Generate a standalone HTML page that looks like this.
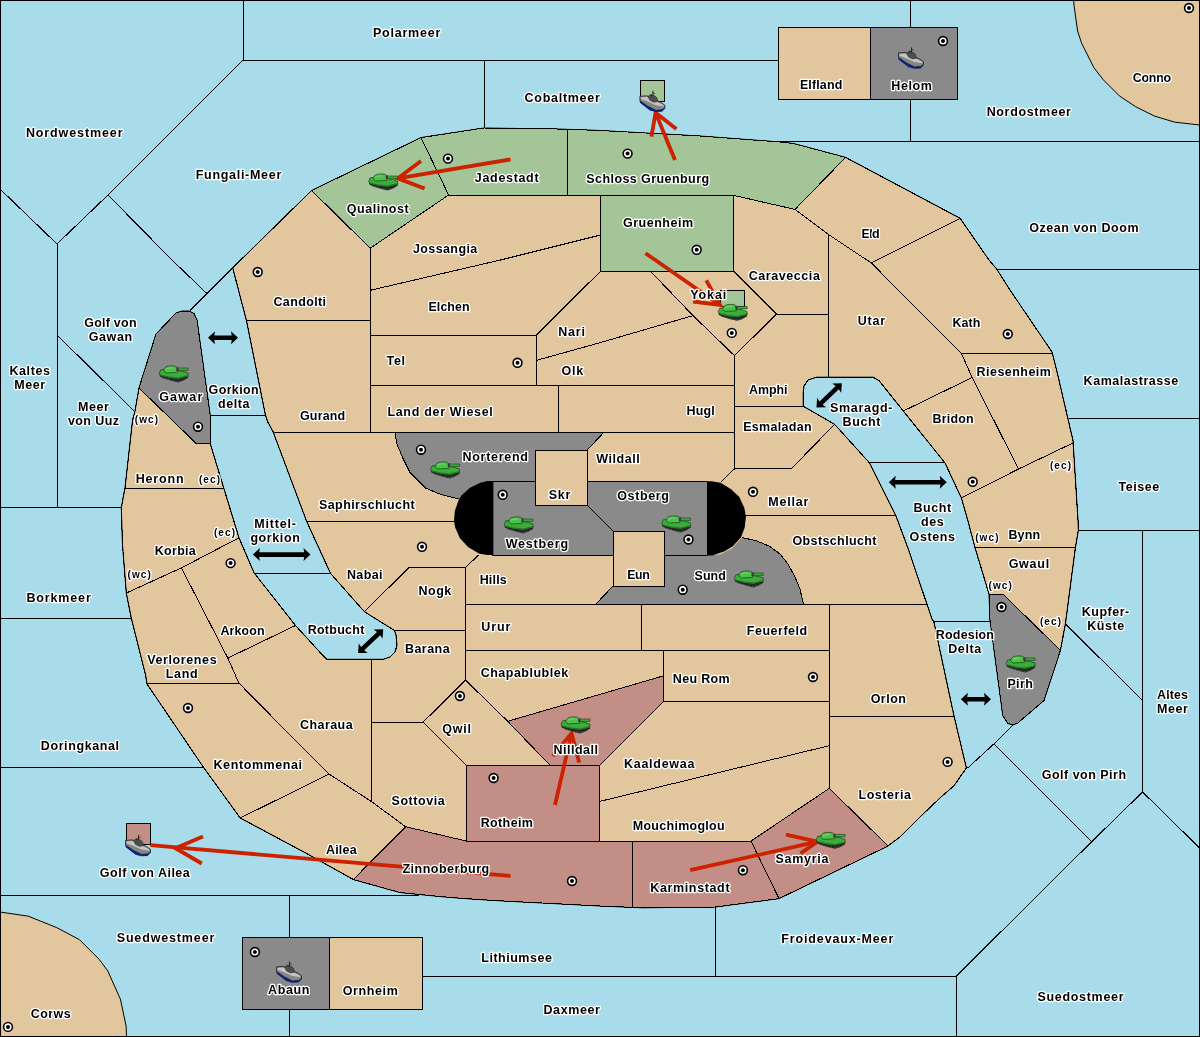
<!DOCTYPE html><html><head><meta charset="utf-8"><style>html,body{margin:0;padding:0;background:#fff;}svg{display:block;}text{will-change:transform;}text{font-family:"Liberation Sans",sans-serif;font-weight:bold;fill:#000;stroke:#fff;stroke-width:2.6px;paint-order:stroke;stroke-linejoin:round;text-anchor:middle;}.t{font-size:12.5px;letter-spacing:0.6px}.s{font-size:10px;letter-spacing:1.1px}</style></head><body>
<svg width="1200" height="1037" viewBox="0 0 1200 1037">
<rect x="0" y="0" width="1200" height="1037" fill="#A9DCEA"/>
<path d="M1073.5,0 L1074.2,6.75 L1077.6,31 L1081.6,43.2 L1093.8,67.5 L1103.2,79.7 L1119.4,95.9 L1135.6,106.7 L1154.5,116.1 L1174.8,122.2 L1199,124.9 L1200,125 L1200,0 Z" fill="#E1C69E" stroke="#000" stroke-width="1"/>
<path d="M0,912 L28.3,916.2 L56.7,927.6 L79.4,939.6 L99.2,959.4 L107.7,970.8 L120.4,999.1 L126.1,1026 L126.5,1037 L0,1037 Z" fill="#E1C69E" stroke="#000" stroke-width="1"/>
<g stroke="#000" stroke-width="1" fill="none" shape-rendering="crispEdges">
<polyline points="243,0 243,60 778.5,60"/>
<polyline points="243,60 108,195"/>
<polyline points="0,189 57,244 108,195 172,260 206.3,293"/>
<polyline points="57,244 57,507.7"/>
<polyline points="0,507.7 121.3,507.7"/>
<polyline points="57,335 134.8,411.6"/>
<polyline points="232.7,267.8 190,310.4"/>
<polyline points="210.1,415.2 265.3,415.2"/>
<polyline points="254.1,573.4 330.5,573.4"/>
<polyline points="0,618 131.3,618"/>
<polyline points="0,767.8 203.8,767.8"/>
<polyline points="0,895 419,895"/>
<polyline points="289.5,895 289.5,1037"/>
<polyline points="422,976 956.4,976"/>
<polyline points="715.3,907 715.3,976"/>
<polyline points="956.4,976 1091.7,841.7 1142.6,792 1200,848.4"/>
<polyline points="956.4,976 956.4,1037"/>
<polyline points="1091.7,841.7 994,743.8 1012.8,725"/>
<polyline points="994,743.8 967.7,768"/>
<polyline points="1142.6,530 1142.6,792"/>
<polyline points="1078.4,530 1200,530"/>
<polyline points="1065.4,624 1142.6,700.5"/>
<polyline points="1069,418.4 1200,418.4"/>
<polyline points="996.5,269 1200,269"/>
<polyline points="780,141 1200,141"/>
<polyline points="910.5,0 910.5,141"/>
<polyline points="484.5,60 484.5,128"/>
<polyline points="933.8,621.5 990,621.5"/>
<polyline points="869.5,462.9 944.3,462.9"/>
</g>
<polygon points="311.6,190.5 421,137.6 484,128 557,129 587,130 600,130.5 700,136 780,142 793.8,143.6 845.6,157.4 960.1,218.3 989,260 996.5,268.8 1010,290 1052,352 1056.6,370 1073,440.5 1078,520 1078.4,530 1075.4,547.6 1065.4,624 1060.4,650.3 1044,700.5 1017.8,723 1012.8,725 1008,723.5 1002.8,715.5 990,620 989,594 975,547.6 967.7,520 961.4,498 945,463 903.3,411 879.2,380.9 873.2,377.2 816.5,377.2 808,380 804,386 803.2,392 803.2,406.2 834.6,424.3 869.5,462.9 896,516 908.1,548.5 932.3,620 933.8,621.5 953.9,715.5 966.4,768 960,777 954,785.8 941,797 920,817 900,837 888,846 779,898.6 715,907 642.6,907.8 600,906 500,900.8 466.7,898.7 441.7,896.7 416.7,894.2 400,892.5 353.3,879.5 310.3,855.5 240.2,818 203.8,767.8 147,684 145.6,675 131.3,618 126.3,593 122.5,545 121.3,507.7 125,487.7 132.6,420 135,411 139,388 156,334 176,313 182,311 189,311 194,313.5 197,320 210.1,414.5 210.3,443.8 224,488.9 239,537.8 254.1,572.9 295.5,625.5 323,655.6 326.8,659.3 383.2,659.3 390,657 395,652 397,645 396,635 394.5,630.5 364.4,611.7 330.5,573.4 306.7,521.5 272.9,431.3 267.8,422 265.3,414.5 246.4,320.4 232.7,267.8" fill="#E1C69E" stroke="#000" stroke-width="1"/>
<polygon points="311.6,190.5 421,137.6 448.6,195 370.2,248.2" fill="#A3C598" stroke="none"/>
<polygon points="421,137.6 484,128 557,129 567.7,129.3 567.7,195 448.6,195" fill="#A3C598" stroke="none"/>
<polygon points="567.7,129.3 587,130 600,130.5 700,136 780,142 793.8,143.6 845.6,157.4 795,209.4 780,206 733.7,195.4 600.6,195.4 567.7,195" fill="#A3C598" stroke="none"/>
<polygon points="600.6,195.4 733.7,195.4 733.7,271.2 600.6,271.2" fill="#A3C598" stroke="none"/>
<polygon points="139,388 156,334 176,313 182,311 189,311 194,313.5 197,320 210.1,414.5 210.3,443.8 196.5,443.8" fill="#8A8A8A" stroke="none"/>
<polygon points="395.2,432.2 604,432.2 587,450.3 535.6,450.3 535.6,481.3 492,481.3 480,483 468,490 460.4,499.3 440.4,494.3 425.3,488 410.3,473 402.8,458 396.5,443" fill="#8A8A8A" stroke="none"/>
<polygon points="492,481.3 535.6,481.3 535.6,505 587,505 613,531 613,555 492,555" fill="#8A8A8A" stroke="none"/>
<polygon points="587,481.3 707,481.3 707,555 664.7,555 664.7,531 613,531 587,505" fill="#8A8A8A" stroke="none"/>
<polygon points="613,586 664.7,586 664.7,555 707,555 720,554.5 732,548.5 742,537.5 757,541 770,546.5 780,554 788,564 795,577 800,589 803.5,604.5 595.5,604.5" fill="#8A8A8A" stroke="none"/>
<polygon points="989,594 1002.8,594 1060.4,650.3 1044,700.5 1017.8,723 1012.8,725 1008,723.5 1002.8,715.5 990,620" fill="#8A8A8A" stroke="none"/>
<polygon points="507.7,721.3 663.7,675.8 663.7,701.3 599.8,765.2 549.9,765.2" fill="#C38E86" stroke="none"/>
<polygon points="466.5,765.2 599.8,765.2 599.8,841.1 466.5,841.1" fill="#C38E86" stroke="none"/>
<polygon points="353.3,879.5 405.6,826.7 466.5,841.1 632.3,841.1 632.3,906.8 600,906 500,900.8 466.7,898.7 441.7,896.7 416.7,894.2 400,892.5" fill="#C38E86" stroke="none"/>
<polygon points="632.3,841.1 751,841.1 779,898.6 715,907 642.6,907.8 632.3,906.8" fill="#C38E86" stroke="none"/>
<polygon points="751,841.1 829.3,788.3 888,846 779,898.6" fill="#C38E86" stroke="none"/>
<path d="M493.4,481.1 L487.6,481.1 L480.2,482.8 L469.6,488.1 L461.4,495.5 L458.5,500.4 L454.8,511.1 L454,520.9 L455.2,527.5 L459.8,538.1 L468,547.1 L479.4,553.7 L487.6,555 L493.4,555 Z" fill="#000"/>
<path d="M707,481.3 L711.5,481.3 L720.5,482.8 L731.1,489.3 L739.3,497.1 L744.3,507.8 L745.9,516.8 L744.7,527.5 L741,537.3 L732.8,546.3 L724.6,551.2 L712.3,555.5 L707,555.5 Z" fill="#000"/>
<g stroke="#000" stroke-width="1" fill="none" shape-rendering="crispEdges">
<polyline points="311.6,190.5 370.2,248.2 448.6,195"/>
<polyline points="421,137.6 448.6,195 567.7,195 600.6,195.4 733.7,195.4 780,206 795,209.4"/>
<polyline points="567.7,129.3 567.7,195"/>
<polyline points="845.6,157.4 795,209.4"/>
<polyline points="370.2,248.2 370.2,432.2"/>
<polyline points="246.4,320.4 370.2,320.4"/>
<polyline points="370.2,290.3 500.5,260 600.6,235"/>
<polyline points="600.6,195.4 600.6,271.2 733.7,271.2 733.7,195.4"/>
<polyline points="536.4,335 600.6,271.2"/>
<polyline points="370.2,335 536.4,335 536.4,385.4"/>
<polyline points="536.4,360.4 600,342.7 693,315.6"/>
<polyline points="650.4,271.2 693,315.6 734.4,355.6 776.7,314 733.7,271.2"/>
<polyline points="776.7,314 828.7,314"/>
<polyline points="828.7,234.7 828.7,377.2"/>
<polyline points="795,209.4 828.7,234.7 871.4,263 916.7,308.8 961.3,353.4"/>
<polyline points="871.4,263 960.1,218.3"/>
<polyline points="961.3,353.4 1052,353.4"/>
<polyline points="961.3,353.4 972.2,377.5 1018.5,469"/>
<polyline points="903.3,411 972.2,377.5"/>
<polyline points="961.4,498 1018.5,469 1073,443"/>
<polyline points="975,547.6 1075.4,547.6"/>
<polyline points="734.4,355.6 734.4,469.6"/>
<polyline points="370.2,385.4 734.4,385.4"/>
<polyline points="558.4,385.4 558.4,432.2"/>
<polyline points="272.8,432.2 734.4,432.2"/>
<polyline points="734.4,406.6 803.2,406.6"/>
<polyline points="834.6,424.3 791.2,468.9 734.4,468.9 721,482"/>
<polyline points="745,515.4 896,515.4"/>
<polyline points="306.7,521.5 456,521.5"/>
<polyline points="364.4,611.7 409,567.5 465.4,567.5 478.6,555"/>
<polyline points="465.4,567.5 465.4,680"/>
<polyline points="394.5,630.5 465.4,630.5"/>
<polyline points="465.4,604.5 927.6,604.5"/>
<polyline points="641.6,604.5 641.6,650.8"/>
<polyline points="465.4,650.8 829.7,650.8"/>
<polyline points="829.7,604.5 829.7,788.3"/>
<polyline points="663.7,650.8 663.7,701.3 829.7,701.3"/>
<polyline points="829.7,716.7 953.9,716.7"/>
<polyline points="599.8,801.4 829.7,745.6"/>
<polyline points="465.4,680 507.7,721.3 663.7,675.8"/>
<polyline points="663.7,701.3 599.8,765.2 549.9,765.2 507.7,721.3"/>
<polyline points="423.1,722.2 465.4,680"/>
<polyline points="423.1,722.2 466.5,765.2"/>
<polyline points="371.7,659.3 371.7,801.7"/>
<polyline points="371.7,722.2 423.1,722.2"/>
<polyline points="466.5,765.2 599.8,765.2 599.8,841.1"/>
<polyline points="466.5,765.2 466.5,841.1 751,841.1"/>
<polyline points="405.6,826.7 466.5,841.1"/>
<polyline points="238.9,683.1 282.8,727.7 329.1,774.1 371.7,801.7 405.6,826.7"/>
<polyline points="240.2,818 329.1,774.1"/>
<polyline points="353.3,879.5 405.6,826.7"/>
<polyline points="632.3,841.1 632.3,906.8"/>
<polyline points="751,841.1 779,898.6"/>
<polyline points="751,841.1 829.3,788.3 888,846"/>
<polyline points="147,683.1 238.9,683.1"/>
<polyline points="181.4,567.9 227.8,658.1 238.9,683.1"/>
<polyline points="227.8,658.1 295.5,625.5"/>
<polyline points="126.3,593 181.4,567.9 239,537.8"/>
<polyline points="125,488.9 224,488.9"/>
<polyline points="139,388 196.5,443.8 210.3,443.8"/>
<polyline points="587,450.3 587,505"/>
<polyline points="535.6,481.3 492,481.3"/>
<polyline points="587,481.3 707,481.3"/>
<polyline points="613,531 613,586 664.7,586 664.7,531 613,531"/>
<polyline points="492,555 613,555"/>
<polyline points="664.7,555 707,555"/>
<polyline points="587,505 613,531"/>
<polyline points="535.6,450.3 535.6,505 587,505 587,450.3 535.6,450.3"/>
<polyline points="604,432.2 587,450.3"/>
<polyline points="395.2,432.2 396.5,443 402.8,458 410.3,473 425.3,488 440.4,494.3 460.4,499.3"/>
<polyline points="742,537.5 757,541 770,546.5 780,554 788,564 795,577 800,589 803.5,604.5"/>
<polyline points="1002.8,594 1060.4,650.3"/>
<polyline points="989,594 1002.8,594"/>
<polyline points="613,586 595.5,604.5"/>
<polygon points="311.6,190.5 421,137.6 484,128 557,129 587,130 600,130.5 700,136 780,142 793.8,143.6 845.6,157.4 960.1,218.3 989,260 996.5,268.8 1010,290 1052,352 1056.6,370 1073,440.5 1078,520 1078.4,530 1075.4,547.6 1065.4,624 1060.4,650.3 1044,700.5 1017.8,723 1012.8,725 1008,723.5 1002.8,715.5 990,620 989,594 975,547.6 967.7,520 961.4,498 945,463 903.3,411 879.2,380.9 873.2,377.2 816.5,377.2 808,380 804,386 803.2,392 803.2,406.2 834.6,424.3 869.5,462.9 896,516 908.1,548.5 932.3,620 933.8,621.5 953.9,715.5 966.4,768 960,777 954,785.8 941,797 920,817 900,837 888,846 779,898.6 715,907 642.6,907.8 600,906 500,900.8 466.7,898.7 441.7,896.7 416.7,894.2 400,892.5 353.3,879.5 310.3,855.5 240.2,818 203.8,767.8 147,684 145.6,675 131.3,618 126.3,593 122.5,545 121.3,507.7 125,487.7 132.6,420 135,411 139,388 156,334 176,313 182,311 189,311 194,313.5 197,320 210.1,414.5 210.3,443.8 224,488.9 239,537.8 254.1,572.9 295.5,625.5 323,655.6 326.8,659.3 383.2,659.3 390,657 395,652 397,645 396,635 394.5,630.5 364.4,611.7 330.5,573.4 306.7,521.5 272.9,431.3 267.8,422 265.3,414.5 246.4,320.4 232.7,267.8"/>
</g>
<rect x="778" y="27" width="92" height="72" fill="#E1C69E" stroke="#000" shape-rendering="crispEdges"/>
<rect x="870" y="27" width="87" height="72" fill="#8A8A8A" stroke="#000" shape-rendering="crispEdges"/>
<rect x="242" y="937" width="87" height="72" fill="#8A8A8A" stroke="#000" shape-rendering="crispEdges"/>
<rect x="329" y="937" width="93" height="72" fill="#E1C69E" stroke="#000" shape-rendering="crispEdges"/>
<rect x="640" y="80" width="24" height="21" fill="#A3C598" stroke="#000" shape-rendering="crispEdges"/>
<rect x="720.5" y="290.5" width="24" height="16" fill="#A3C598" stroke="#000" shape-rendering="crispEdges"/>
<rect x="126" y="823" width="24" height="21" fill="#C38E86" stroke="#000" shape-rendering="crispEdges"/>
<rect x="0" y="0" width="1199" height="1036" fill="none" stroke="#000" stroke-width="1" shape-rendering="crispEdges"/>
<circle cx="1189" cy="8" r="4.4" fill="#fff" stroke="#000" stroke-width="1.6"/><circle cx="1189" cy="8" r="2" fill="#000"/>
<circle cx="943" cy="41" r="4.4" fill="#fff" stroke="#000" stroke-width="1.6"/><circle cx="943" cy="41" r="2" fill="#000"/>
<circle cx="448" cy="158.6" r="4.4" fill="#fff" stroke="#000" stroke-width="1.6"/><circle cx="448" cy="158.6" r="2" fill="#000"/>
<circle cx="627.6" cy="153.6" r="4.4" fill="#fff" stroke="#000" stroke-width="1.6"/><circle cx="627.6" cy="153.6" r="2" fill="#000"/>
<circle cx="696.7" cy="249.8" r="4.4" fill="#fff" stroke="#000" stroke-width="1.6"/><circle cx="696.7" cy="249.8" r="2" fill="#000"/>
<circle cx="731.8" cy="332.9" r="4.4" fill="#fff" stroke="#000" stroke-width="1.6"/><circle cx="731.8" cy="332.9" r="2" fill="#000"/>
<circle cx="257.7" cy="272" r="4.4" fill="#fff" stroke="#000" stroke-width="1.6"/><circle cx="257.7" cy="272" r="2" fill="#000"/>
<circle cx="517.5" cy="362.8" r="4.4" fill="#fff" stroke="#000" stroke-width="1.6"/><circle cx="517.5" cy="362.8" r="2" fill="#000"/>
<circle cx="1007.8" cy="334" r="4.4" fill="#fff" stroke="#000" stroke-width="1.6"/><circle cx="1007.8" cy="334" r="2" fill="#000"/>
<circle cx="972.7" cy="481.8" r="4.4" fill="#fff" stroke="#000" stroke-width="1.6"/><circle cx="972.7" cy="481.8" r="2" fill="#000"/>
<circle cx="198" cy="426.7" r="4.4" fill="#fff" stroke="#000" stroke-width="1.6"/><circle cx="198" cy="426.7" r="2" fill="#000"/>
<circle cx="421" cy="449.7" r="4.4" fill="#fff" stroke="#000" stroke-width="1.6"/><circle cx="421" cy="449.7" r="2" fill="#000"/>
<circle cx="502.7" cy="494.8" r="4.4" fill="#fff" stroke="#000" stroke-width="1.6"/><circle cx="502.7" cy="494.8" r="2" fill="#000"/>
<circle cx="753" cy="491.8" r="4.4" fill="#fff" stroke="#000" stroke-width="1.6"/><circle cx="753" cy="491.8" r="2" fill="#000"/>
<circle cx="422" cy="546.8" r="4.4" fill="#fff" stroke="#000" stroke-width="1.6"/><circle cx="422" cy="546.8" r="2" fill="#000"/>
<circle cx="230.6" cy="563.1" r="4.4" fill="#fff" stroke="#000" stroke-width="1.6"/><circle cx="230.6" cy="563.1" r="2" fill="#000"/>
<circle cx="688.5" cy="539.5" r="4.4" fill="#fff" stroke="#000" stroke-width="1.6"/><circle cx="688.5" cy="539.5" r="2" fill="#000"/>
<circle cx="682.7" cy="589.7" r="4.4" fill="#fff" stroke="#000" stroke-width="1.6"/><circle cx="682.7" cy="589.7" r="2" fill="#000"/>
<circle cx="1001.5" cy="607" r="4.4" fill="#fff" stroke="#000" stroke-width="1.6"/><circle cx="1001.5" cy="607" r="2" fill="#000"/>
<circle cx="813" cy="677" r="4.4" fill="#fff" stroke="#000" stroke-width="1.6"/><circle cx="813" cy="677" r="2" fill="#000"/>
<circle cx="459.9" cy="696" r="4.4" fill="#fff" stroke="#000" stroke-width="1.6"/><circle cx="459.9" cy="696" r="2" fill="#000"/>
<circle cx="188" cy="708" r="4.4" fill="#fff" stroke="#000" stroke-width="1.6"/><circle cx="188" cy="708" r="2" fill="#000"/>
<circle cx="947.6" cy="761.9" r="4.4" fill="#fff" stroke="#000" stroke-width="1.6"/><circle cx="947.6" cy="761.9" r="2" fill="#000"/>
<circle cx="493.6" cy="778" r="4.4" fill="#fff" stroke="#000" stroke-width="1.6"/><circle cx="493.6" cy="778" r="2" fill="#000"/>
<circle cx="572" cy="881" r="4.4" fill="#fff" stroke="#000" stroke-width="1.6"/><circle cx="572" cy="881" r="2" fill="#000"/>
<circle cx="742.9" cy="870.2" r="4.4" fill="#fff" stroke="#000" stroke-width="1.6"/><circle cx="742.9" cy="870.2" r="2" fill="#000"/>
<circle cx="254.9" cy="952" r="4.4" fill="#fff" stroke="#000" stroke-width="1.6"/><circle cx="254.9" cy="952" r="2" fill="#000"/>
<circle cx="8" cy="1026.9" r="4.4" fill="#fff" stroke="#000" stroke-width="1.6"/><circle cx="8" cy="1026.9" r="2" fill="#000"/>
<g stroke="#CC2200" stroke-width="3.8" fill="none" stroke-linecap="butt">
<polyline points="510.5,159.4 397.7,178.4"/><polyline points="421,161 397.7,178.4 424.6,188.5"/>
<polyline points="675,160 655.6,112.8"/><polyline points="651.4,136.6 655.6,112.8 676.4,129"/>
<polyline points="645.5,253.3 720,305"/><polyline points="706.3,280.3 720,305 693,301.5"/>
<polyline points="555,805 571.6,733.2"/><polyline points="552.7,756 571.6,733.2 579.2,762.4"/>
<polyline points="510.5,876 150.4,845.2"/><polyline points="203,836.4 175.4,848.2 201.8,863.5"/>
<polyline points="690.2,870.2 817.5,841.7"/><polyline points="786,834.6 817.5,841.7 800.5,853.4"/>
</g>
<g transform="translate(368.6,173.8)"><path d="M0.5,8.5 L29,9 L29,12 L24,15 L19,16.6 L12,15 L4,12.5 L0.5,10.5 Z" fill="#262626"/><path d="M3,12 L12,14.5 L19,15.8 L24,14.2" fill="none" stroke="#6a6a6a" stroke-width="0.8" stroke-dasharray="1.3,1.7"/><path d="M0,7.5 L1.7,4 L6,3.5 L24,5.5 L29,7.5 L29,10.5 L19,13 L10,12 L1.5,9.8 Z" fill="#3AAE3A" stroke="#173f17" stroke-width="0.7"/><path d="M1.5,8.8 L10,10.8 L19,11.8 L29,9.3 L29,10.5 L19,13 L10,12 L1.5,9.8 Z" fill="#267626"/><path d="M4.5,5 C5,1.5 8,0.2 11,0.2 L15,0.2 C17.5,0.6 18.6,2 18.6,4 L18.2,6.6 L7,7.2 Z" fill="#4CC24C" stroke="#173f17" stroke-width="0.7"/><path d="M6.5,3.5 L11,2 L14,2.5" fill="none" stroke="#7ad86a" stroke-width="0.9"/><path d="M18.6,2.2 L29,2.2 L29,4.6 L18.6,4.6 Z" fill="#3AAE3A" stroke="#173f17" stroke-width="0.6"/><rect x="17.2" y="1.6" width="2.2" height="3.6" fill="#3a3a3a"/></g>
<g transform="translate(159.1,365.8)"><path d="M0.5,8.5 L29,9 L29,12 L24,15 L19,16.6 L12,15 L4,12.5 L0.5,10.5 Z" fill="#262626"/><path d="M3,12 L12,14.5 L19,15.8 L24,14.2" fill="none" stroke="#6a6a6a" stroke-width="0.8" stroke-dasharray="1.3,1.7"/><path d="M0,7.5 L1.7,4 L6,3.5 L24,5.5 L29,7.5 L29,10.5 L19,13 L10,12 L1.5,9.8 Z" fill="#3AAE3A" stroke="#173f17" stroke-width="0.7"/><path d="M1.5,8.8 L10,10.8 L19,11.8 L29,9.3 L29,10.5 L19,13 L10,12 L1.5,9.8 Z" fill="#267626"/><path d="M4.5,5 C5,1.5 8,0.2 11,0.2 L15,0.2 C17.5,0.6 18.6,2 18.6,4 L18.2,6.6 L7,7.2 Z" fill="#4CC24C" stroke="#173f17" stroke-width="0.7"/><path d="M6.5,3.5 L11,2 L14,2.5" fill="none" stroke="#7ad86a" stroke-width="0.9"/><path d="M18.6,2.2 L29,2.2 L29,4.6 L18.6,4.6 Z" fill="#3AAE3A" stroke="#173f17" stroke-width="0.6"/><rect x="17.2" y="1.6" width="2.2" height="3.6" fill="#3a3a3a"/></g>
<g transform="translate(430.6,461.8)"><path d="M0.5,8.5 L29,9 L29,12 L24,15 L19,16.6 L12,15 L4,12.5 L0.5,10.5 Z" fill="#262626"/><path d="M3,12 L12,14.5 L19,15.8 L24,14.2" fill="none" stroke="#6a6a6a" stroke-width="0.8" stroke-dasharray="1.3,1.7"/><path d="M0,7.5 L1.7,4 L6,3.5 L24,5.5 L29,7.5 L29,10.5 L19,13 L10,12 L1.5,9.8 Z" fill="#3AAE3A" stroke="#173f17" stroke-width="0.7"/><path d="M1.5,8.8 L10,10.8 L19,11.8 L29,9.3 L29,10.5 L19,13 L10,12 L1.5,9.8 Z" fill="#267626"/><path d="M4.5,5 C5,1.5 8,0.2 11,0.2 L15,0.2 C17.5,0.6 18.6,2 18.6,4 L18.2,6.6 L7,7.2 Z" fill="#4CC24C" stroke="#173f17" stroke-width="0.7"/><path d="M6.5,3.5 L11,2 L14,2.5" fill="none" stroke="#7ad86a" stroke-width="0.9"/><path d="M18.6,2.2 L29,2.2 L29,4.6 L18.6,4.6 Z" fill="#3AAE3A" stroke="#173f17" stroke-width="0.6"/><rect x="17.2" y="1.6" width="2.2" height="3.6" fill="#3a3a3a"/></g>
<g transform="translate(504.1,516.8)"><path d="M0.5,8.5 L29,9 L29,12 L24,15 L19,16.6 L12,15 L4,12.5 L0.5,10.5 Z" fill="#262626"/><path d="M3,12 L12,14.5 L19,15.8 L24,14.2" fill="none" stroke="#6a6a6a" stroke-width="0.8" stroke-dasharray="1.3,1.7"/><path d="M0,7.5 L1.7,4 L6,3.5 L24,5.5 L29,7.5 L29,10.5 L19,13 L10,12 L1.5,9.8 Z" fill="#3AAE3A" stroke="#173f17" stroke-width="0.7"/><path d="M1.5,8.8 L10,10.8 L19,11.8 L29,9.3 L29,10.5 L19,13 L10,12 L1.5,9.8 Z" fill="#267626"/><path d="M4.5,5 C5,1.5 8,0.2 11,0.2 L15,0.2 C17.5,0.6 18.6,2 18.6,4 L18.2,6.6 L7,7.2 Z" fill="#4CC24C" stroke="#173f17" stroke-width="0.7"/><path d="M6.5,3.5 L11,2 L14,2.5" fill="none" stroke="#7ad86a" stroke-width="0.9"/><path d="M18.6,2.2 L29,2.2 L29,4.6 L18.6,4.6 Z" fill="#3AAE3A" stroke="#173f17" stroke-width="0.6"/><rect x="17.2" y="1.6" width="2.2" height="3.6" fill="#3a3a3a"/></g>
<g transform="translate(661.6,515.8)"><path d="M0.5,8.5 L29,9 L29,12 L24,15 L19,16.6 L12,15 L4,12.5 L0.5,10.5 Z" fill="#262626"/><path d="M3,12 L12,14.5 L19,15.8 L24,14.2" fill="none" stroke="#6a6a6a" stroke-width="0.8" stroke-dasharray="1.3,1.7"/><path d="M0,7.5 L1.7,4 L6,3.5 L24,5.5 L29,7.5 L29,10.5 L19,13 L10,12 L1.5,9.8 Z" fill="#3AAE3A" stroke="#173f17" stroke-width="0.7"/><path d="M1.5,8.8 L10,10.8 L19,11.8 L29,9.3 L29,10.5 L19,13 L10,12 L1.5,9.8 Z" fill="#267626"/><path d="M4.5,5 C5,1.5 8,0.2 11,0.2 L15,0.2 C17.5,0.6 18.6,2 18.6,4 L18.2,6.6 L7,7.2 Z" fill="#4CC24C" stroke="#173f17" stroke-width="0.7"/><path d="M6.5,3.5 L11,2 L14,2.5" fill="none" stroke="#7ad86a" stroke-width="0.9"/><path d="M18.6,2.2 L29,2.2 L29,4.6 L18.6,4.6 Z" fill="#3AAE3A" stroke="#173f17" stroke-width="0.6"/><rect x="17.2" y="1.6" width="2.2" height="3.6" fill="#3a3a3a"/></g>
<g transform="translate(734.3,570.8)"><path d="M0.5,8.5 L29,9 L29,12 L24,15 L19,16.6 L12,15 L4,12.5 L0.5,10.5 Z" fill="#262626"/><path d="M3,12 L12,14.5 L19,15.8 L24,14.2" fill="none" stroke="#6a6a6a" stroke-width="0.8" stroke-dasharray="1.3,1.7"/><path d="M0,7.5 L1.7,4 L6,3.5 L24,5.5 L29,7.5 L29,10.5 L19,13 L10,12 L1.5,9.8 Z" fill="#3AAE3A" stroke="#173f17" stroke-width="0.7"/><path d="M1.5,8.8 L10,10.8 L19,11.8 L29,9.3 L29,10.5 L19,13 L10,12 L1.5,9.8 Z" fill="#267626"/><path d="M4.5,5 C5,1.5 8,0.2 11,0.2 L15,0.2 C17.5,0.6 18.6,2 18.6,4 L18.2,6.6 L7,7.2 Z" fill="#4CC24C" stroke="#173f17" stroke-width="0.7"/><path d="M6.5,3.5 L11,2 L14,2.5" fill="none" stroke="#7ad86a" stroke-width="0.9"/><path d="M18.6,2.2 L29,2.2 L29,4.6 L18.6,4.6 Z" fill="#3AAE3A" stroke="#173f17" stroke-width="0.6"/><rect x="17.2" y="1.6" width="2.2" height="3.6" fill="#3a3a3a"/></g>
<g transform="translate(718.1,304.2)"><path d="M0.5,8.5 L29,9 L29,12 L24,15 L19,16.6 L12,15 L4,12.5 L0.5,10.5 Z" fill="#262626"/><path d="M3,12 L12,14.5 L19,15.8 L24,14.2" fill="none" stroke="#6a6a6a" stroke-width="0.8" stroke-dasharray="1.3,1.7"/><path d="M0,7.5 L1.7,4 L6,3.5 L24,5.5 L29,7.5 L29,10.5 L19,13 L10,12 L1.5,9.8 Z" fill="#3AAE3A" stroke="#173f17" stroke-width="0.7"/><path d="M1.5,8.8 L10,10.8 L19,11.8 L29,9.3 L29,10.5 L19,13 L10,12 L1.5,9.8 Z" fill="#267626"/><path d="M4.5,5 C5,1.5 8,0.2 11,0.2 L15,0.2 C17.5,0.6 18.6,2 18.6,4 L18.2,6.6 L7,7.2 Z" fill="#4CC24C" stroke="#173f17" stroke-width="0.7"/><path d="M6.5,3.5 L11,2 L14,2.5" fill="none" stroke="#7ad86a" stroke-width="0.9"/><path d="M18.6,2.2 L29,2.2 L29,4.6 L18.6,4.6 Z" fill="#3AAE3A" stroke="#173f17" stroke-width="0.6"/><rect x="17.2" y="1.6" width="2.2" height="3.6" fill="#3a3a3a"/></g>
<g transform="translate(1006.1,655.8)"><path d="M0.5,8.5 L29,9 L29,12 L24,15 L19,16.6 L12,15 L4,12.5 L0.5,10.5 Z" fill="#262626"/><path d="M3,12 L12,14.5 L19,15.8 L24,14.2" fill="none" stroke="#6a6a6a" stroke-width="0.8" stroke-dasharray="1.3,1.7"/><path d="M0,7.5 L1.7,4 L6,3.5 L24,5.5 L29,7.5 L29,10.5 L19,13 L10,12 L1.5,9.8 Z" fill="#3AAE3A" stroke="#173f17" stroke-width="0.7"/><path d="M1.5,8.8 L10,10.8 L19,11.8 L29,9.3 L29,10.5 L19,13 L10,12 L1.5,9.8 Z" fill="#267626"/><path d="M4.5,5 C5,1.5 8,0.2 11,0.2 L15,0.2 C17.5,0.6 18.6,2 18.6,4 L18.2,6.6 L7,7.2 Z" fill="#4CC24C" stroke="#173f17" stroke-width="0.7"/><path d="M6.5,3.5 L11,2 L14,2.5" fill="none" stroke="#7ad86a" stroke-width="0.9"/><path d="M18.6,2.2 L29,2.2 L29,4.6 L18.6,4.6 Z" fill="#3AAE3A" stroke="#173f17" stroke-width="0.6"/><rect x="17.2" y="1.6" width="2.2" height="3.6" fill="#3a3a3a"/></g>
<g transform="translate(561,716.8)"><path d="M0.5,8.5 L29,9 L29,12 L24,15 L19,16.6 L12,15 L4,12.5 L0.5,10.5 Z" fill="#262626"/><path d="M3,12 L12,14.5 L19,15.8 L24,14.2" fill="none" stroke="#6a6a6a" stroke-width="0.8" stroke-dasharray="1.3,1.7"/><path d="M0,7.5 L1.7,4 L6,3.5 L24,5.5 L29,7.5 L29,10.5 L19,13 L10,12 L1.5,9.8 Z" fill="#3AAE3A" stroke="#173f17" stroke-width="0.7"/><path d="M1.5,8.8 L10,10.8 L19,11.8 L29,9.3 L29,10.5 L19,13 L10,12 L1.5,9.8 Z" fill="#267626"/><path d="M4.5,5 C5,1.5 8,0.2 11,0.2 L15,0.2 C17.5,0.6 18.6,2 18.6,4 L18.2,6.6 L7,7.2 Z" fill="#4CC24C" stroke="#173f17" stroke-width="0.7"/><path d="M6.5,3.5 L11,2 L14,2.5" fill="none" stroke="#7ad86a" stroke-width="0.9"/><path d="M18.6,2.2 L29,2.2 L29,4.6 L18.6,4.6 Z" fill="#3AAE3A" stroke="#173f17" stroke-width="0.6"/><rect x="17.2" y="1.6" width="2.2" height="3.6" fill="#3a3a3a"/></g>
<g transform="translate(816.1,832.2)"><path d="M0.5,8.5 L29,9 L29,12 L24,15 L19,16.6 L12,15 L4,12.5 L0.5,10.5 Z" fill="#262626"/><path d="M3,12 L12,14.5 L19,15.8 L24,14.2" fill="none" stroke="#6a6a6a" stroke-width="0.8" stroke-dasharray="1.3,1.7"/><path d="M0,7.5 L1.7,4 L6,3.5 L24,5.5 L29,7.5 L29,10.5 L19,13 L10,12 L1.5,9.8 Z" fill="#3AAE3A" stroke="#173f17" stroke-width="0.7"/><path d="M1.5,8.8 L10,10.8 L19,11.8 L29,9.3 L29,10.5 L19,13 L10,12 L1.5,9.8 Z" fill="#267626"/><path d="M4.5,5 C5,1.5 8,0.2 11,0.2 L15,0.2 C17.5,0.6 18.6,2 18.6,4 L18.2,6.6 L7,7.2 Z" fill="#4CC24C" stroke="#173f17" stroke-width="0.7"/><path d="M6.5,3.5 L11,2 L14,2.5" fill="none" stroke="#7ad86a" stroke-width="0.9"/><path d="M18.6,2.2 L29,2.2 L29,4.6 L18.6,4.6 Z" fill="#3AAE3A" stroke="#173f17" stroke-width="0.6"/><rect x="17.2" y="1.6" width="2.2" height="3.6" fill="#3a3a3a"/></g>
<g transform="translate(898.5,47.4)"><path d="M0,9 L0,12 L10,19.8 L16,21.3 L22,21 L25.2,17.8 L25.2,15.5 L16,19 L8,15 Z" fill="#06238a"/><path d="M0,5.5 L7,5 L10,6.5 L16,9.5 L21,11.5 L25,14.5 L25,17 L22,19 L16,19.5 L8,15.5 L0,10 Z" fill="#858585" stroke="#1e1e1e" stroke-width="0.8"/><path d="M1,6.5 L6.5,6 L16,10.5 L23,13.8 L24,15.8 L16,14.5 L7,10.5 L1,8.3 Z" fill="#c4c4c4"/><path d="M8,5.5 L11,3.8 L15,5.2 L17,7 L18,10.5 L14,11.5 L10,9.5 Z" fill="#4e4e4e" stroke="#1e1e1e" stroke-width="0.5"/><path d="M13,0 L13,5 M13,2 L15,2.8 M11.5,3.5 L11.5,5.5" stroke="#1e1e1e" stroke-width="0.9" fill="none"/></g>
<g transform="translate(639.9,90.8)"><path d="M0,9 L0,12 L10,19.8 L16,21.3 L22,21 L25.2,17.8 L25.2,15.5 L16,19 L8,15 Z" fill="#06238a"/><path d="M0,5.5 L7,5 L10,6.5 L16,9.5 L21,11.5 L25,14.5 L25,17 L22,19 L16,19.5 L8,15.5 L0,10 Z" fill="#858585" stroke="#1e1e1e" stroke-width="0.8"/><path d="M1,6.5 L6.5,6 L16,10.5 L23,13.8 L24,15.8 L16,14.5 L7,10.5 L1,8.3 Z" fill="#c4c4c4"/><path d="M8,5.5 L11,3.8 L15,5.2 L17,7 L18,10.5 L14,11.5 L10,9.5 Z" fill="#4e4e4e" stroke="#1e1e1e" stroke-width="0.5"/><path d="M13,0 L13,5 M13,2 L15,2.8 M11.5,3.5 L11.5,5.5" stroke="#1e1e1e" stroke-width="0.9" fill="none"/></g>
<g transform="translate(276.5,961.4)"><path d="M0,9 L0,12 L10,19.8 L16,21.3 L22,21 L25.2,17.8 L25.2,15.5 L16,19 L8,15 Z" fill="#06238a"/><path d="M0,5.5 L7,5 L10,6.5 L16,9.5 L21,11.5 L25,14.5 L25,17 L22,19 L16,19.5 L8,15.5 L0,10 Z" fill="#858585" stroke="#1e1e1e" stroke-width="0.8"/><path d="M1,6.5 L6.5,6 L16,10.5 L23,13.8 L24,15.8 L16,14.5 L7,10.5 L1,8.3 Z" fill="#c4c4c4"/><path d="M8,5.5 L11,3.8 L15,5.2 L17,7 L18,10.5 L14,11.5 L10,9.5 Z" fill="#4e4e4e" stroke="#1e1e1e" stroke-width="0.5"/><path d="M13,0 L13,5 M13,2 L15,2.8 M11.5,3.5 L11.5,5.5" stroke="#1e1e1e" stroke-width="0.9" fill="none"/></g>
<g transform="translate(125.5,834.9)"><path d="M0,9 L0,12 L10,19.8 L16,21.3 L22,21 L25.2,17.8 L25.2,15.5 L16,19 L8,15 Z" fill="#06238a"/><path d="M0,5.5 L7,5 L10,6.5 L16,9.5 L21,11.5 L25,14.5 L25,17 L22,19 L16,19.5 L8,15.5 L0,10 Z" fill="#858585" stroke="#1e1e1e" stroke-width="0.8"/><path d="M1,6.5 L6.5,6 L16,10.5 L23,13.8 L24,15.8 L16,14.5 L7,10.5 L1,8.3 Z" fill="#c4c4c4"/><path d="M8,5.5 L11,3.8 L15,5.2 L17,7 L18,10.5 L14,11.5 L10,9.5 Z" fill="#4e4e4e" stroke="#1e1e1e" stroke-width="0.5"/><path d="M13,0 L13,5 M13,2 L15,2.8 M11.5,3.5 L11.5,5.5" stroke="#1e1e1e" stroke-width="0.9" fill="none"/></g>
<g fill="#000">
<g transform="translate(223,337.7) rotate(0)"><path d="M-15,0 L-8,-6.5 L-8.7,-2.3 L8.7,-2.3 L8,-6.5 L15,0 L8,6.5 L8.7,2.3 L-8.7,2.3 L-8,6.5 Z"/></g>
<g transform="translate(281.7,554.6) rotate(0)"><path d="M-28.8,0 L-21.8,-6.5 L-22.5,-2.3 L22.5,-2.3 L21.8,-6.5 L28.8,0 L21.8,6.5 L22.5,2.3 L-22.5,2.3 L-21.8,6.5 Z"/></g>
<g transform="translate(370.65,641.15) rotate(-43.3567)"><path d="M-17.2605,0 L-10.2605,-6.5 L-10.9605,-2.3 L10.9605,-2.3 L10.2605,-6.5 L17.2605,0 L10.2605,6.5 L10.9605,2.3 L-10.9605,2.3 L-10.2605,6.5 Z"/></g>
<g transform="translate(829.15,395.35) rotate(-43.6085)"><path d="M-17.4707,0 L-10.4707,-6.5 L-11.1707,-2.3 L11.1707,-2.3 L10.4707,-6.5 L17.4707,0 L10.4707,6.5 L11.1707,2.3 L-11.1707,2.3 L-10.4707,6.5 Z"/></g>
<g transform="translate(917.75,482.2) rotate(0)"><path d="M-28.95,0 L-21.95,-6.5 L-22.65,-2.3 L22.65,-2.3 L21.95,-6.5 L28.95,0 L21.95,6.5 L22.65,2.3 L-22.65,2.3 L-21.95,6.5 Z"/></g>
<g transform="translate(975.95,699.2) rotate(0)"><path d="M-15.05,0 L-8.05,-6.5 L-8.75,-2.3 L8.75,-2.3 L8.05,-6.5 L15.05,0 L8.05,6.5 L8.75,2.3 L-8.75,2.3 L-8.05,6.5 Z"/></g>
</g>
<text class="t" x="406.9" y="37" textLength="68.0" lengthAdjust="spacing">Polarmeer</text>
<text class="t" x="562.5" y="102" textLength="75.8" lengthAdjust="spacing">Cobaltmeer</text>
<text class="t" x="74.5" y="137" textLength="97.2" lengthAdjust="spacing">Nordwestmeer</text>
<text class="t" x="238.8" y="179" textLength="86.2" lengthAdjust="spacing">Fungali-Meer</text>
<text class="t" x="1029.1" y="116" textLength="84.9" lengthAdjust="spacing">Nordostmeer</text>
<text class="t" x="1152.3" y="82" textLength="39.1" lengthAdjust="spacing">Conno</text>
<text class="t" x="821.4" y="89" textLength="43.0" lengthAdjust="spacing">Elfland</text>
<text class="t" x="911.9" y="89.5" textLength="41.3" lengthAdjust="spacing">Helom</text>
<text class="t" x="1084.2" y="232" textLength="110.0" lengthAdjust="spacing">Ozean von Doom</text>
<text class="t" x="30" y="374.5">Kaltes</text>
<text class="t" x="30" y="388.5">Meer</text>
<text class="t" x="110.7" y="327" textLength="53.0" lengthAdjust="spacing">Golf von</text>
<text class="t" x="110.7" y="341">Gawan</text>
<text class="t" x="93.7" y="411">Meer</text>
<text class="t" x="93.8" y="425" textLength="51.8" lengthAdjust="spacing">von Uuz</text>
<text class="t" x="181.0" y="401" textLength="43.7" lengthAdjust="spacing">Gawar</text>
<text class="t" x="233.9" y="394" textLength="50.6" lengthAdjust="spacing">Gorkion</text>
<text class="t" x="234" y="408">delta</text>
<text class="t" x="160.0" y="483" textLength="48.7" lengthAdjust="spacing">Heronn</text>
<text class="t" x="300.0" y="306" textLength="53.1" lengthAdjust="spacing">Candolti</text>
<text class="t" x="378.0" y="213" textLength="62.4" lengthAdjust="spacing">Qualinost</text>
<text class="t" x="507.0" y="182" textLength="64.3" lengthAdjust="spacing">Jadestadt</text>
<text class="t" x="445.4" y="253" textLength="64.9" lengthAdjust="spacing">Jossangia</text>
<text class="t" x="648.0" y="182.5" textLength="123.4" lengthAdjust="spacing">Schloss Gruenburg</text>
<text class="t" x="658.3" y="227" textLength="70.7" lengthAdjust="spacing">Gruenheim</text>
<text class="t" x="784.6" y="280" textLength="71.7" lengthAdjust="spacing">Caraveccia</text>
<text class="t" x="708.5" y="298.5" textLength="36.7" lengthAdjust="spacing">Yokai</text>
<text class="t" x="870.9" y="238" textLength="18.9" lengthAdjust="spacing">Eld</text>
<text class="t" x="871.7" y="325" textLength="27.9" lengthAdjust="spacing">Utar</text>
<text class="t" x="966.8" y="327" textLength="28.6" lengthAdjust="spacing">Kath</text>
<text class="t" x="449.4" y="311" textLength="41.8" lengthAdjust="spacing">Elchen</text>
<text class="t" x="571.9" y="336" textLength="27.4" lengthAdjust="spacing">Nari</text>
<text class="t" x="396.1" y="364.5" textLength="19.0" lengthAdjust="spacing">Tel</text>
<text class="t" x="572.7" y="375" textLength="22.3" lengthAdjust="spacing">Olk</text>
<text class="t" x="440.4" y="415.5" textLength="106.0" lengthAdjust="spacing">Land der Wiesel</text>
<text class="t" x="322.9" y="419.5" textLength="45.8" lengthAdjust="spacing">Gurand</text>
<text class="t" x="701.0" y="415" textLength="28.9" lengthAdjust="spacing">Hugl</text>
<text class="t" x="768.6" y="394" textLength="39.0" lengthAdjust="spacing">Amphi</text>
<text class="t" x="777.7" y="431" textLength="69.1" lengthAdjust="spacing">Esmaladan</text>
<text class="t" x="861.5" y="412" textLength="63.2" lengthAdjust="spacing">Smaragd-</text>
<text class="t" x="861.8" y="426">Bucht</text>
<text class="t" x="953.4" y="423" textLength="41.9" lengthAdjust="spacing">Bridon</text>
<text class="t" x="1014.0" y="376" textLength="74.9" lengthAdjust="spacing">Riesenheim</text>
<text class="t" x="1131.2" y="385" textLength="95.2" lengthAdjust="spacing">Kamalastrasse</text>
<text class="t" x="1139.2" y="491" textLength="41.2" lengthAdjust="spacing">Teisee</text>
<text class="t" x="495.5" y="461" textLength="66.2" lengthAdjust="spacing">Norterend</text>
<text class="t" x="559.9" y="499" textLength="22.2" lengthAdjust="spacing">Skr</text>
<text class="t" x="537.2" y="548" textLength="62.9" lengthAdjust="spacing">Westberg</text>
<text class="t" x="493.5" y="584" textLength="27.7" lengthAdjust="spacing">Hills</text>
<text class="t" x="618.3" y="463" textLength="44.3" lengthAdjust="spacing">Wildall</text>
<text class="t" x="643.4" y="500" textLength="52.4" lengthAdjust="spacing">Ostberg</text>
<text class="t" x="788.7" y="506" textLength="40.7" lengthAdjust="spacing">Mellar</text>
<text class="t" x="834.8" y="545" textLength="84.6" lengthAdjust="spacing">Obstschlucht</text>
<text class="t" x="932.6" y="512">Bucht</text>
<text class="t" x="932.6" y="526">des</text>
<text class="t" x="932.6" y="540.5">Ostens</text>
<text class="t" x="367.1" y="509" textLength="96.2" lengthAdjust="spacing">Saphirschlucht</text>
<text class="t" x="275.4" y="528" textLength="42.3" lengthAdjust="spacing">Mittel-</text>
<text class="t" x="275.4" y="542">gorkion</text>
<text class="t" x="175.6" y="555" textLength="41.6" lengthAdjust="spacing">Korbia</text>
<text class="t" x="365.0" y="579" textLength="36.1" lengthAdjust="spacing">Nabai</text>
<text class="t" x="336.3" y="634" textLength="57.3" lengthAdjust="spacing">Rotbucht</text>
<text class="t" x="242.8" y="634.5" textLength="44.8" lengthAdjust="spacing">Arkoon</text>
<text class="t" x="182.2" y="664" textLength="70.0" lengthAdjust="spacing">Verlorenes</text>
<text class="t" x="182" y="678">Land</text>
<text class="t" x="58.9" y="602" textLength="64.9" lengthAdjust="spacing">Borkmeer</text>
<text class="t" x="80.2" y="750" textLength="78.9" lengthAdjust="spacing">Doringkanal</text>
<text class="t" x="258.1" y="769" textLength="89.2" lengthAdjust="spacing">Kentommenai</text>
<text class="t" x="326.6" y="729" textLength="53.3" lengthAdjust="spacing">Charaua</text>
<text class="t" x="341.6" y="854" textLength="31.2" lengthAdjust="spacing">Ailea</text>
<text class="t" x="427.6" y="653" textLength="45.3" lengthAdjust="spacing">Barana</text>
<text class="t" x="435.2" y="595" textLength="33.2" lengthAdjust="spacing">Nogk</text>
<text class="t" x="496.1" y="631" textLength="29.5" lengthAdjust="spacing">Urur</text>
<text class="t" x="524.7" y="677" textLength="88.1" lengthAdjust="spacing">Chapablublek</text>
<text class="t" x="456.9" y="733" textLength="29.3" lengthAdjust="spacing">Qwil</text>
<text class="t" x="576.0" y="754" textLength="45.2" lengthAdjust="spacing">Nilldall</text>
<text class="t" x="418.4" y="805" textLength="53.6" lengthAdjust="spacing">Sottovia</text>
<text class="t" x="507.1" y="827" textLength="52.8" lengthAdjust="spacing">Rotheim</text>
<text class="t" x="446.1" y="873" textLength="87.4" lengthAdjust="spacing">Zinnoberburg</text>
<text class="t" x="516.9" y="961.5" textLength="71.1" lengthAdjust="spacing">Lithiumsee</text>
<text class="t" x="370.6" y="995" textLength="55.6" lengthAdjust="spacing">Ornheim</text>
<text class="t" x="572" y="1013.5">Daxmeer</text>
<text class="t" x="289" y="994">Abaun</text>
<text class="t" x="145.1" y="877" textLength="90.5" lengthAdjust="spacing">Golf von Ailea</text>
<text class="t" x="165.8" y="942" textLength="98.2" lengthAdjust="spacing">Suedwestmeer</text>
<text class="t" x="51.0" y="1018" textLength="40.5" lengthAdjust="spacing">Corws</text>
<text class="t" x="638.8" y="579" textLength="23.3" lengthAdjust="spacing">Eun</text>
<text class="t" x="710.5" y="579.5" textLength="31.8" lengthAdjust="spacing">Sund</text>
<text class="t" x="777.3" y="635" textLength="61.1" lengthAdjust="spacing">Feuerfeld</text>
<text class="t" x="701.5" y="683" textLength="57.3" lengthAdjust="spacing">Neu Rom</text>
<text class="t" x="888.6" y="703" textLength="35.9" lengthAdjust="spacing">Orlon</text>
<text class="t" x="659.5" y="768" textLength="71.1" lengthAdjust="spacing">Kaaldewaa</text>
<text class="t" x="679.0" y="829.5" textLength="92.4" lengthAdjust="spacing">Mouchimoglou</text>
<text class="t" x="802.3" y="862.5" textLength="53.6" lengthAdjust="spacing">Samyria</text>
<text class="t" x="690.2" y="892" textLength="79.9" lengthAdjust="spacing">Karminstadt</text>
<text class="t" x="837.6" y="943" textLength="112.5" lengthAdjust="spacing">Froidevaux-Meer</text>
<text class="t" x="885.0" y="799" textLength="53.0" lengthAdjust="spacing">Losteria</text>
<text class="t" x="1080.8" y="1001" textLength="86.7" lengthAdjust="spacing">Suedostmeer</text>
<text class="t" x="1024.6" y="539" textLength="32.3" lengthAdjust="spacing">Bynn</text>
<text class="t" x="1029.2" y="568" textLength="41.1" lengthAdjust="spacing">Gwaul</text>
<text class="t" x="1105.8" y="615.5" textLength="48.0" lengthAdjust="spacing">Kupfer-</text>
<text class="t" x="1106" y="629.5">Küste</text>
<text class="t" x="965.2" y="639" textLength="58.8" lengthAdjust="spacing">Rodesion</text>
<text class="t" x="965" y="653">Delta</text>
<text class="t" x="1020.4" y="688" textLength="26.0" lengthAdjust="spacing">Pirh</text>
<text class="t" x="1172.8" y="699" textLength="31.5" lengthAdjust="spacing">Altes</text>
<text class="t" x="1172.8" y="713">Meer</text>
<text class="t" x="1084.2" y="779" textLength="84.9" lengthAdjust="spacing">Golf von Pirh</text>
<text class="s" x="147" y="423">(wc)</text>
<text class="s" x="210" y="482.5">(ec)</text>
<text class="s" x="1061" y="468.5">(ec)</text>
<text class="s" x="225" y="535.5">(ec)</text>
<text class="s" x="139.7" y="578">(wc)</text>
<text class="s" x="987.4" y="541">(wc)</text>
<text class="s" x="1000.7" y="589">(wc)</text>
<text class="s" x="1051" y="625">(ec)</text>
</svg></body></html>
